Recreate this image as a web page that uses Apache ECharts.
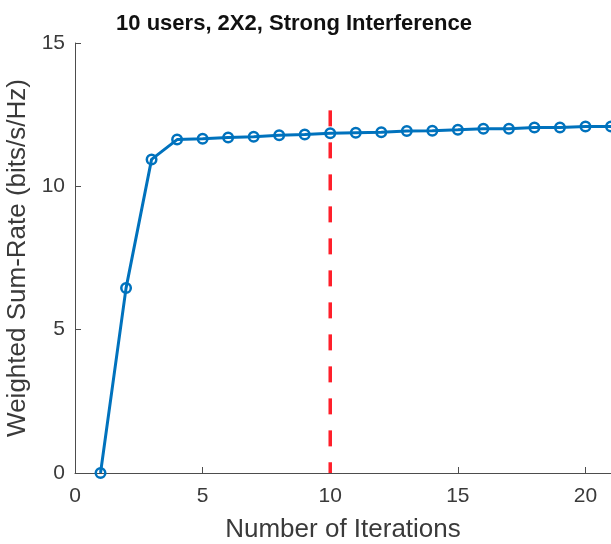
<!DOCTYPE html>
<html>
<head>
<meta charset="utf-8">
<title>Weighted Sum-Rate vs Iterations</title>
<script src="https://cdn.jsdelivr.net/npm/echarts@6/dist/echarts.min.js"></script>
<style>
  html, body { margin: 0; padding: 0; background: #ffffff; }
  #chart { width: 611px; height: 544px; }
</style>
</head>
<body>
<div id="chart"></div>
<script>
// Iteration index and the weighted sum-rate reached at each iteration
const iterations = [1, 2, 3, 4, 5, 6, 7, 8, 9, 10, 11, 12, 13, 14, 15, 16, 17, 18, 19, 20, 21];
const sumRate = [0, 6.45, 10.94, 11.63, 11.66, 11.70, 11.73, 11.78, 11.81, 11.85, 11.87,
                 11.89, 11.93, 11.94, 11.97, 12.01, 12.01, 12.05, 12.05, 12.09, 12.09];

// Vertical marker at iteration 10
const markerIteration = 10;
const markerRange = [12.65, 0];

const xTicks = [0, 5, 10, 15, 20];
const yTicks = [0, 5, 10, 15];

const FONT = '"Liberation Sans", Arial, Helvetica, sans-serif';
const AXIS_COLOR = '#4d4d4d';
const TEXT_COLOR = '#3a3a3a';

const chart = echarts.init(document.getElementById('chart'), null, { renderer: 'canvas' });

chart.setOption({
  animation: false,
  backgroundColor: '#ffffff',
  title: {
    text: '10 users, 2X2, Strong Interference',
    left: 289,
    textAlign: 'center',
    top: 8,
    textStyle: { fontFamily: FONT, fontSize: 22, fontWeight: 'bold', color: '#111111' }
  },
  grid: { left: 75, right: 0, top: 43, bottom: 71, containLabel: false, outerBoundsMode: 'none' },
  xAxis: {
    type: 'value',
    min: 0,
    max: 21,
    interval: 5,
    name: 'Number of Iterations',
    nameLocation: 'middle',
    nameGap: 44,
    nameTextStyle: { fontFamily: FONT, fontSize: 26, color: TEXT_COLOR },
    axisLine: { show: true, onZero: false, lineStyle: { color: AXIS_COLOR, width: 1 } },
    axisTick: { show: true, inside: true, length: 6, customValues: xTicks,
                lineStyle: { color: AXIS_COLOR, width: 1 } },
    axisLabel: { customValues: xTicks, margin: 13, fontFamily: FONT, fontSize: 21, color: TEXT_COLOR },
    splitLine: { show: false }
  },
  yAxis: {
    type: 'value',
    min: 0,
    max: 15,
    interval: 5,
    name: 'Weighted Sum-Rate (bits/s/Hz)',
    nameLocation: 'middle',
    nameGap: 33,
    nameTextStyle: { fontFamily: FONT, fontSize: 26, color: TEXT_COLOR },
    axisLine: { show: true, onZero: false, lineStyle: { color: AXIS_COLOR, width: 1 } },
    axisTick: { show: true, inside: true, length: 6, customValues: yTicks,
                lineStyle: { color: AXIS_COLOR, width: 1 } },
    axisLabel: { customValues: yTicks, margin: 10, fontFamily: FONT, fontSize: 21, color: TEXT_COLOR },
    splitLine: { show: false }
  },
  series: [
    {
      name: 'marker',
      type: 'line',
      z: 1,
      silent: true,
      symbol: 'none',
      data: markerRange.map(v => [markerIteration, v]),
      lineStyle: { color: '#ff1f2a', width: 3.5, type: [16, 16] }
    },
    {
      name: 'sum-rate',
      type: 'line',
      z: 2,
      data: iterations.map((it, i) => [it, sumRate[i]]),
      symbol: 'circle',
      symbolSize: 9.5,
      showAllSymbol: true,
      lineStyle: { color: '#0072BD', width: 3 },
      itemStyle: { color: 'rgba(0,0,0,0)', borderColor: '#0072BD', borderWidth: 2.5 }
    }
  ]
});
</script>
</body>
</html>
